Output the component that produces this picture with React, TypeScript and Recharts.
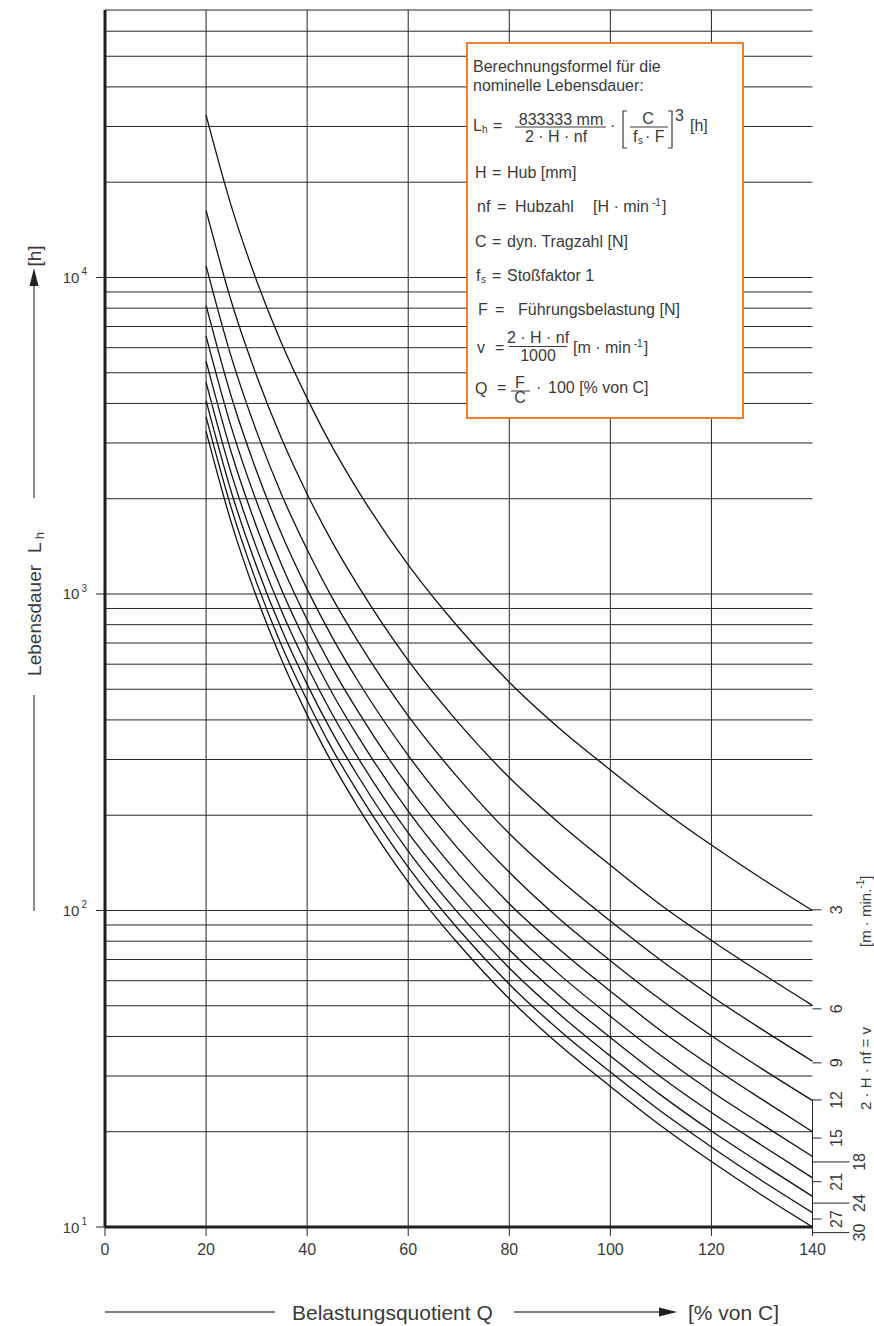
import { CartesianGrid, Line, LineChart, ReferenceLine, XAxis, YAxis } from "recharts";

// Belastungsquotient Q [% von C]
const Q_PERCENT = [20, 25, 30, 35, 40, 45, 50, 60, 70, 80, 90, 100, 110, 120, 130, 140];

// Lebensdauer L_h [h], one curve per speed v = 2 · H · nf [m/min]
const LIFE_V3 = [32600, 16800, 9770, 6160, 4150, 2910, 2130, 1235, 782, 526, 375, 278, 209, 161, 126, 100];
const LIFE_V6 = [16300, 8400, 4890, 3080, 2070, 1455, 1067, 617, 391, 263, 188, 139, 104, 80.4, 63.2, 50.1];
const LIFE_V9 = [10880, 5600, 3258, 2052, 1382, 970, 711, 412, 261, 175, 125, 92.6, 69.6, 53.6, 42.1, 33.4];
const LIFE_V12 = [8160, 4200, 2443, 1539, 1036, 728, 533, 309, 195, 132, 93.8, 69.4, 52.2, 40.2, 31.6, 25.1];
const LIFE_V15 = [6528, 3360, 1955, 1231, 829, 582, 427, 247, 156, 105, 75.1, 55.6, 41.7, 32.2, 25.3, 20.0];
const LIFE_V18 = [5440, 2800, 1629, 1026, 691, 485, 356, 206, 130, 87.7, 62.6, 46.3, 34.8, 26.8, 21.1, 16.7];
const LIFE_V21 = [4663, 2400, 1396, 879, 592, 416, 305, 176, 112, 75.2, 53.6, 39.7, 29.8, 23.0, 18.1, 14.3];
const LIFE_V24 = [4080, 2100, 1222, 769, 518, 364, 267, 154, 97.7, 65.8, 46.9, 34.7, 26.1, 20.1, 15.8, 12.5];
const LIFE_V27 = [3627, 1867, 1086, 684, 461, 323, 237, 137, 86.9, 58.5, 41.7, 30.9, 23.2, 17.9, 14.0, 11.1];
const LIFE_V30 = [3264, 1680, 977, 616, 415, 291, 213, 123, 78.2, 52.6, 37.5, 27.8, 20.9, 16.1, 12.6, 10.0];

const SERIES = [
  { key: "v3", values: LIFE_V3 },
  { key: "v6", values: LIFE_V6 },
  { key: "v9", values: LIFE_V9 },
  { key: "v12", values: LIFE_V12 },
  { key: "v15", values: LIFE_V15 },
  { key: "v18", values: LIFE_V18 },
  { key: "v21", values: LIFE_V21 },
  { key: "v24", values: LIFE_V24 },
  { key: "v27", values: LIFE_V27 },
  { key: "v30", values: LIFE_V30 },
];

// right hand labels of the curves and where their ticks sit (in hours)
const SPEED_LABELS = ["3", "6", "9", "12", "15", "18", "21", "24", "27", "30"];
const SPEED_TICK_AT = [100.5, 48.9, 33, 25.2, 19.1, 16.05, 13.9, 11.9, 10.6, 9.6];
const LONG_TICK_LABELS = ["18", "24", "30"];

const X_TICKS = [0, 20, 40, 60, 80, 100, 120, 140];
const X_GRID = [20, 40, 60, 80, 100, 120];

const LH_GRID = [
  10, 20, 30, 40, 50, 60, 70, 80, 90,
  100, 200, 300, 400, 500, 600, 700, 800, 900,
  1000, 2000, 3000, 4000, 5000, 6000, 7000, 8000, 9000,
  10000, 20000, 30000, 40000, 50000, 60000, 70000,
];
const LH_LABELS = [10, 100, 1000, 10000];
const LH_EXPONENTS = ["1", "2", "3", "4"];

const FONT = "'Liberation Sans', Arial, sans-serif";
const INK = "#3a3a3a";
const LINE = "#262626";

const data = Q_PERCENT.map((q, i) => {
  const row: Record<string, number> = { q };
  SERIES.forEach((s) => {
    row[s.key] = s.values[i];
  });
  return row;
});

function LeftTick(props: any) {
  const { x, y, payload } = props;
  const idx = LH_LABELS.indexOf(payload.value);
  if (idx < 0) return <g />;
  return (
    <g>
      <line x1={x - 9} x2={x} y1={y} y2={y} stroke={LINE} strokeWidth={1} />
      <text x={x - 18} y={y} textAnchor="end" dominantBaseline="central" fontSize={15} fill={INK} fontFamily={FONT}>
        10
        <tspan dx={2} dy={-6} fontSize={10}>
          {LH_EXPONENTS[idx]}
        </tspan>
      </text>
    </g>
  );
}

function SpeedTick(props: any) {
  const { x, y, payload } = props;
  const idx = SPEED_TICK_AT.indexOf(payload.value);
  if (idx < 0) return <g />;
  const label = SPEED_LABELS[idx];
  const long = LONG_TICK_LABELS.includes(label);
  const tx = x + (long ? 47.5 : 24.5);
  return (
    <g>
      <line x1={x} x2={x + (long ? 37 : 9)} y1={y} y2={y} stroke={LINE} strokeWidth={1} />
      <text
        x={tx}
        y={y}
        transform={`rotate(-90 ${tx} ${y})`}
        textAnchor="middle"
        dominantBaseline="central"
        fontSize={16}
        fill={INK}
        fontFamily={FONT}
      >
        {label}
      </text>
    </g>
  );
}

function Titles() {
  const t = { fontFamily: FONT, fill: INK };
  return (
    <g>
      {/* y axis title */}
      <line x1={34} x2={34} y1={695} y2={911} stroke="#555" strokeWidth={1.4} />
      <text x={34} y={604} transform="rotate(-90 34 604)" textAnchor="middle" dominantBaseline="central" fontSize={19} {...t}>
        Lebensdauer
        <tspan dx={12}>L</tspan>
        <tspan dx={3} dy={5} fontSize={13}>h</tspan>
      </text>
      <line x1={34} x2={34} y1={498} y2={284} stroke="#555" strokeWidth={1.4} />
      <polygon points="34,268 29.5,286 38.5,286" fill="#222" />
      <text x={34} y={256} transform="rotate(-90 34 256)" textAnchor="middle" dominantBaseline="central" fontSize={19} {...t}>
        [h]
      </text>

      {/* x axis title */}
      <line x1={105} x2={275} y1={1312} y2={1312} stroke="#555" strokeWidth={1.4} />
      <text x={292} y={1312} dominantBaseline="central" fontSize={21} {...t}>
        Belastungsquotient Q
      </text>
      <line x1={514} x2={660} y1={1312} y2={1312} stroke="#555" strokeWidth={1.4} />
      <polygon points="677,1312 659,1307.5 659,1316.5" fill="#222" />
      <text x={688} y={1312} dominantBaseline="central" fontSize={21} {...t}>
        [% von C]
      </text>

      {/* right side speed caption */}
      <text x={865} y={947} transform="rotate(-90 865 947)" dominantBaseline="central" fontSize={15} {...t}>
        [m · min.
        <tspan dy={-5} fontSize={10}>-1</tspan>
        <tspan dy={5}>]</tspan>
      </text>
      <text x={865} y={1110} transform="rotate(-90 865 1110)" dominantBaseline="central" fontSize={15} {...t}>
        2 · H · nf = v
      </text>
    </g>
  );
}

function FormulaBox() {
  const t = { fontFamily: FONT, fill: INK, fontSize: 16 };
  const s = { fontFamily: FONT, fill: INK, fontSize: 10 };
  return (
    <g>
      <rect x={467} y={43} width={276} height={375} fill="#fff" stroke="#f07d2d" strokeWidth={2} />
      <text x={473} y={71.5} {...t}>Berechnungsformel für die</text>
      <text x={473} y={90.5} {...t}>nominelle Lebensdauer:</text>

      {/* L_h = 833333 mm / (2 · H · nf) · [C / (fs · F)]^3 [h] */}
      <text x={473} y={131} {...t}>L</text>
      <text x={482} y={133} {...s}>h</text>
      <text x={493} y={131} {...t}>=</text>
      <text x={561} y={125} textAnchor="middle" {...t}>833333 mm</text>
      <line x1={515} x2={606} y1={127} y2={127} stroke={INK} strokeWidth={1} />
      <text x={556} y={142} textAnchor="middle" {...t}>2 · H · nf</text>
      <text x={610} y={131} {...t}>·</text>
      <path d="M627,111 H623 V148 H627" fill="none" stroke={INK} strokeWidth={1.2} />
      <text x={648} y={124} textAnchor="middle" {...t}>C</text>
      <line x1={630} x2={668} y1={127} y2={127} stroke={INK} strokeWidth={1} />
      <text x={633} y={142} {...t}>f</text>
      <text x={638} y={144} {...s}>s</text>
      <text x={645} y={142} {...t}>· F</text>
      <path d="M668,111 H672 V148 H668" fill="none" stroke={INK} strokeWidth={1.2} />
      <text x={675} y={121} {...t}>3</text>
      <text x={690} y={131} {...t}>[h]</text>

      <text x={475} y={178} {...t}>H</text>
      <text x={492} y={178} {...t}>=</text>
      <text x={507} y={178} {...t}>Hub [mm]</text>

      <text x={477} y={211.5} {...t}>nf</text>
      <text x={497} y={211.5} {...t}>=</text>
      <text x={515} y={211.5} {...t}>Hubzahl</text>
      <text x={593} y={211.5} {...t}>
        [H · min
        <tspan dx={3} dy={-6} fontSize={10}>-1</tspan>
        <tspan dx={1} dy={6}>]</tspan>
      </text>

      <text x={475} y={247} {...t}>C</text>
      <text x={492} y={247} {...t}>=</text>
      <text x={507} y={247} {...t}>dyn. Tragzahl [N]</text>

      <text x={476} y={281} {...t}>f</text>
      <text x={481} y={283} {...s}>s</text>
      <text x={492} y={281} {...t}>=</text>
      <text x={507} y={281} {...t}>Stoßfaktor 1</text>

      <text x={478} y={315} {...t}>F</text>
      <text x={495} y={315} {...t}>=</text>
      <text x={518} y={315} {...t}>Führungsbelastung [N]</text>

      <text x={477} y={353} {...t}>v</text>
      <text x={495} y={353} {...t}>=</text>
      <text x={538} y={343} textAnchor="middle" {...t}>2 · H · nf</text>
      <line x1={509} x2={567} y1={346.5} y2={346.5} stroke={INK} strokeWidth={1} />
      <text x={538} y={361} textAnchor="middle" {...t}>1000</text>
      <text x={573} y={353} {...t}>
        [m · min
        <tspan dx={3} dy={-6} fontSize={10}>-1</tspan>
        <tspan dx={1} dy={6}>]</tspan>
      </text>

      <text x={475} y={394} {...t}>Q</text>
      <text x={497} y={393} {...t}>=</text>
      <text x={520} y={388} textAnchor="middle" {...t}>F</text>
      <line x1={511} x2={530} y1={391} y2={391} stroke={INK} strokeWidth={1} />
      <text x={520} y={403} textAnchor="middle" {...t}>C</text>
      <text x={536} y={393} {...t}>·</text>
      <text x={548} y={393} {...t}>100 [% von C]</text>
    </g>
  );
}

export default function App() {
  return (
    <div style={{ position: "absolute", left: 0, top: 0, width: 874, height: 1326, background: "#fff" }}>
      <LineChart
        width={874}
        height={1326}
        data={data}
        margin={{ top: 10, right: 11, bottom: 59, left: 45 }}
      >
        <CartesianGrid yAxisId="left" vertical={false} stroke={LINE} strokeWidth={1} />
        <XAxis
          dataKey="q"
          type="number"
          domain={[0, 140]}
          ticks={X_TICKS}
          interval={0}
          height={40}
          tickSize={9}
          tickMargin={8}
          axisLine={{ stroke: "#1e1e1e", strokeWidth: 3 }}
          tickLine={{ stroke: LINE }}
          tick={{ fontSize: 16, fill: INK, fontFamily: FONT }}
        />
        <YAxis
          yAxisId="left"
          type="number"
          scale="log"
          domain={[10, 70000]}
          allowDataOverflow
          ticks={LH_GRID}
          interval={0}
          width={60}
          tickSize={0}
          tickMargin={0}
          tickLine={false}
          axisLine={{ stroke: "#1e1e1e", strokeWidth: 3 }}
          tick={<LeftTick />}
        />
        <YAxis
          yAxisId="right"
          orientation="right"
          type="number"
          scale="log"
          domain={[10, 70000]}
          allowDataOverflow
          ticks={SPEED_TICK_AT}
          interval={0}
          width={50.5}
          tickSize={0}
          tickMargin={0}
          tickLine={false}
          axisLine={false}
          tick={<SpeedTick />}
        />
        {X_GRID.map((q) => (
          <ReferenceLine key={q} x={q} yAxisId="left" stroke={LINE} strokeWidth={1} />
        ))}
        <ReferenceLine
          yAxisId="left"
          segment={[
            { x: 140, y: 25.2 },
            { x: 140, y: 9.6 },
          ]}
          ifOverflow="visible"
          stroke={LINE}
          strokeWidth={1}
        />
        {SERIES.map((s) => (
          <Line
            key={s.key}
            yAxisId="left"
            dataKey={s.key}
            type="monotone"
            stroke="#111"
            strokeWidth={1.3}
            dot={false}
            isAnimationActive={false}
          />
        ))}
      </LineChart>
      <svg
        width={874}
        height={1326}
        style={{ position: "absolute", left: 0, top: 0, pointerEvents: "none" }}
      >
        <Titles />
        <FormulaBox />
      </svg>
    </div>
  );
}
